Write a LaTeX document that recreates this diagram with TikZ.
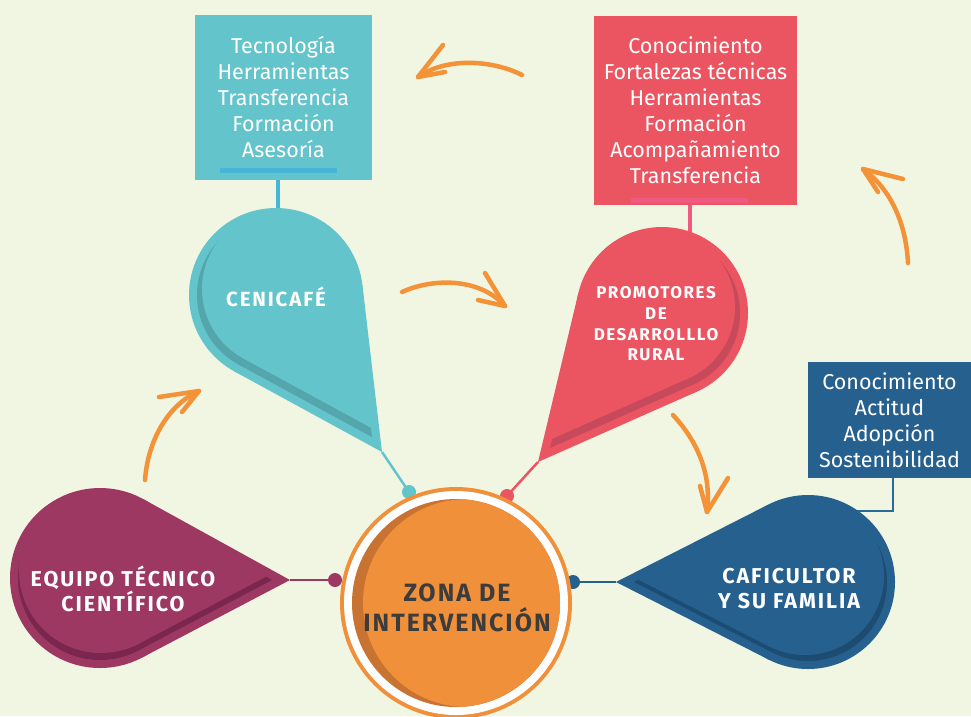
\documentclass[tikz,border=0pt]{standalone}
\usepackage{fontspec}
\setmainfont{Fira Sans}
\newfontfamily\capsfont[LetterSpace=9]{Fira Sans}
\newfontfamily\zonafont[LetterSpace=8]{Fira Sans}
\usetikzlibrary{calc}
\definecolor{bg}{HTML}{F1F6E3}
\definecolor{cyanA}{HTML}{64C4CB}
\definecolor{cyanD}{HTML}{55A5AC}
\definecolor{cyanL}{HTML}{45B6D8}
\definecolor{redA}{HTML}{EB5461}
\definecolor{redD}{HTML}{C64A5C}
\definecolor{pinkL}{HTML}{F05A80}
\definecolor{purA}{HTML}{9D3862}
\definecolor{purD}{HTML}{7A264F}
\definecolor{bluA}{HTML}{25608E}
\definecolor{bluD}{HTML}{1D4C72}
\definecolor{bluL}{HTML}{2E6A96}
\definecolor{orA}{HTML}{F0903A}
\definecolor{orD}{HTML}{C87332}
\definecolor{arr}{HTML}{F39237}
\definecolor{txt}{HTML}{3C3C3C}
\newcommand{\tdrop}[7]{%
  \node[circle,inner sep=0pt,outer sep=0pt,minimum size={2*(#3)*1pt}] (#7) at (#1,#2) {};
  \fill[#6] (#1,#2) circle[radius={(#3)*1pt}];
  \fill[#6] (#4,#5) -- (tangent cs:node=#7,point={(#4,#5)},solution=1) -- (#1,#2)
     -- (tangent cs:node=#7,point={(#4,#5)},solution=2) -- cycle;
}
\tikzset{
  infobox/.style={inner sep=0pt, outer sep=0pt, text=white, align=center,
     font=\fontsize{21.5}{26}\selectfont},
  droplabel/.style={text=white, align=center, inner sep=0pt},
  dotnode/.style={circle, inner sep=0pt, minimum size=14pt},
  tipline/.style={line width=2.5pt},
  harrow/.style={draw=arr, line width=4.5pt, line cap=round, line join=round},
}
\begin{document}
\begin{tikzpicture}[x=1pt,y=-1pt]
\useasboundingbox (0,0) rectangle (971,716);
\fill[bg] (0,0) rectangle (971,716);

% coordinates for connectors
\coordinate (cjoin) at (278,215);
\coordinate (rjoin) at (690,240);
\coordinate (bend) at (893,511);
\coordinate (bend2) at (850,511);
\coordinate (ctip) at (382,452);
\coordinate (rtip) at (538,462);
\coordinate (ptip) at (290,580);
\coordinate (btip) at (616,582);

% info boxes
\node[infobox, fill=cyanA, minimum width=177pt, minimum height=165pt] (cbox) at (283.5,97.5)
  {Tecnología\\Herramientas\\Transferencia\\Formación\\Asesoría};
\node[infobox, fill=redA, minimum width=203pt, minimum height=189pt] (rbox) at (695.5,110.5)
  {Conocimiento\\Fortalezas técnicas\\Herramientas\\Formación\\Acompañamiento\\Transferencia};
\node[infobox, fill=bluA, minimum width=163pt, minimum height=116pt] (bbox) at (889.5,420)
  {Conocimiento\\Actitud\\Adopción\\Sostenibilidad};
\fill[cyanL] (220,167.5) rectangle (337,172.5);
\fill[pinkL] (631,198) rectangle (748,203);

% box connectors
\draw[cyanL, line width=4pt] (cbox.south -| cjoin) -- (cjoin);
\draw[pinkL, line width=4pt] (rbox.south -| rjoin) -- (rjoin);
\draw[bluL, line width=2pt] (bbox.south -| bend) -- (bend) -- (bend2);

% dots and tip lines
\node[dotnode, fill=cyanA] (cdot) at (409,492) {};
\node[dotnode, fill=redA] (rdot) at (507,496) {};
\node[dotnode, fill=purA] (pdot) at (335,580) {};
\node[dotnode, fill=bluA] (bdot) at (573,582) {};
\draw[tipline, cyanA] (ctip) -- (cdot.center);
\draw[tipline, redA] (rtip) -- (rdot.center);
\draw[tipline, purA] (ptip) -- (pdot.center);
\draw[tipline, bluA] (btip) -- (bdot.center);

% teardrops
\tdrop{276}{295}{87}{382}{452}{cyanA}{cdrop}
\tdrop{276}{295}{79}{372}{437}{cyanD}{cdropi}
\tdrop{281}{289}{79}{377}{431}{cyanA}{cdrops}

\tdrop{662}{313}{86}{538}{462}{redA}{rdrop}
\tdrop{662}{313}{78}{550}{448}{redD}{rdropi}
\tdrop{657}{307}{78}{545}{442}{redA}{rdrops}

\tdrop{100}{578}{90}{290}{580}{purA}{pdrop}
\tdrop{100}{578}{82}{272}{580}{purD}{pdropi}
\tdrop{101}{571}{82}{273}{573}{purA}{pdrops}

\tdrop{808}{582}{87}{616}{582}{bluA}{bdrop}
\tdrop{808}{582}{79}{634}{582}{bluD}{bdropi}
\tdrop{805}{576}{79}{631}{576}{bluA}{bdrops}

% labels
\node[droplabel, font=\capsfont\bfseries\fontsize{20.5}{24}\selectfont] (clab) at (276,297) {CENICAFÉ};
\node[droplabel, font=\capsfont\bfseries\fontsize{17}{20.7}\selectfont] (rlab) at (656,324)
  {PROMOTORES\\DE\\DESARROLLLO\\RURAL};
\node[droplabel, font=\capsfont\bfseries\fontsize{21.5}{25}\selectfont] (plab) at (123,589)
  {EQUIPO TÉCNICO\\CIENTÍFICO};
\node[droplabel, font=\capsfont\bfseries\fontsize{21.5}{25}\selectfont] (blab) at (789,589)
  {CAFICULTOR\\Y SU FAMILIA};

% central circle
\fill[orA] (456,603) circle[radius=116pt];
\fill[white] (456,603) circle[radius=112pt];
\fill[orD] (456,603) circle[radius=104pt];
\begin{scope}
  \clip (456,603) circle[radius=104pt];
  \fill[orA] (467,603) circle[radius=104pt];
\end{scope}
\node[align=center, text=txt, inner sep=0pt, font=\zonafont\bfseries\fontsize{25}{30}\selectfont] (zona) at (457,608)
  {ZONA DE\\INTERVENCIÓN};

% arrows
\coordinate (a1s) at (145,480); \coordinate (a1t) at (199,391);
\coordinate (a1b) at (159,397); \coordinate (a1c) at (182,412);
\draw[harrow] (a1s) .. controls (148,440) and (168,405) .. (a1t);
\draw[harrow] (a1b) -- (a1t) -- (a1c);

\coordinate (a2s) at (402,292); \coordinate (a2t) at (505,306);
\coordinate (a2b) at (485,273); \coordinate (a2c) at (478,300);
\draw[harrow] (a2s) .. controls (430,279) and (478,276) .. (a2t);
\draw[harrow] (a2b) -- (a2t) -- (a2c);

\coordinate (a3s) at (522,75); \coordinate (a3t) at (418,77);
\coordinate (a3b) at (443,45); \coordinate (a3c) at (445,72);
\draw[harrow] (a3s) .. controls (495,61) and (448,56) .. (a3t);
\draw[harrow] (a3b) -- (a3t) -- (a3c);

\coordinate (a4s) at (908,263); \coordinate (a4t) at (863,169);
\coordinate (a4b) at (903,179); \coordinate (a4c) at (878,192);
\draw[harrow] (a4s) .. controls (906,225) and (892,190) .. (a4t);
\draw[harrow] (a4b) -- (a4t) -- (a4c);

\coordinate (a5s) at (673,415); \coordinate (a5t) at (707,512);
\coordinate (a5b) at (700,486); \coordinate (a5c) at (728,478);
\draw[harrow] (a5s) .. controls (696,440) and (712,472) .. (a5t);
\draw[harrow] (a5b) -- (a5t) -- (a5c);
\end{tikzpicture}
\end{document}
